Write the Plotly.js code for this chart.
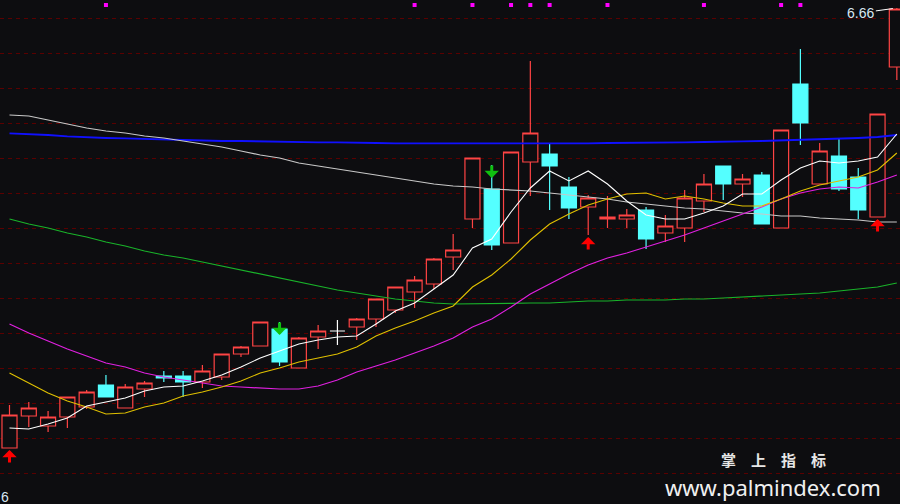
<!DOCTYPE html>
<html><head><meta charset="utf-8">
<script src="https://cdn.plot.ly/plotly-3.0.1.min.js"></script>
<style>html,body{margin:0;padding:0;background:#0d0d10;overflow:hidden}#chart{width:900px;height:504px}</style>
</head><body><div id="chart"></div>
<script>
// ---- data ----
const dayIndex = [0,1,2,3,4,5,6,7,8,9,10,11,12,13,14,15,16,17,18,19,20,21,22,23,24,25,26,27,28,29,30,31,32,33,34,35,36,37,38,39,40,41,42,43,44,45,46];
const openP  = [4.46,4.62,4.57,4.615,4.665,4.775,4.66,4.755,4.82,4.82,4.79,4.815,4.93,4.97,5.055,4.86,5.015,5.045,5.065,5.105,5.15,5.24,5.28,5.415,5.605,5.755,5.485,5.89,5.93,5.765,5.665,5.605,5.605,5.65,5.535,5.56,5.695,5.87,5.78,5.825,5.56,6.28,5.78,5.92,5.815,5.615,6.365];
const highP  = [4.675,4.69,4.645,4.715,4.75,4.825,4.78,4.795,4.845,4.845,4.875,4.93,4.97,5.09,5.09,5.015,5.075,5.10,5.11,5.205,5.265,5.32,5.41,5.53,5.91,5.875,5.94,6.395,5.98,5.815,5.725,5.72,5.655,5.665,5.625,5.75,5.83,5.87,5.83,5.84,6.05,6.455,5.985,6.005,5.86,6.13,6.66];
const lowP   = [4.46,4.565,4.54,4.56,4.655,4.715,4.66,4.715,4.79,4.715,4.76,4.80,4.915,4.97,4.87,4.86,4.955,4.975,5.00,5.065,5.135,5.16,5.255,5.35,5.56,5.45,5.485,5.72,5.65,5.605,5.525,5.56,5.56,5.455,5.49,5.49,5.64,5.70,5.715,5.58,5.56,5.975,5.78,5.745,5.605,5.615,6.30];
const closeP = [4.625,4.66,4.615,4.715,4.74,4.715,4.765,4.785,4.81,4.79,4.845,4.93,4.965,5.09,4.89,5.01,5.045,5.045,5.105,5.205,5.265,5.30,5.405,5.45,5.91,5.475,5.94,6.035,5.87,5.66,5.71,5.615,5.625,5.505,5.57,5.71,5.78,5.78,5.805,5.58,6.05,6.085,5.945,5.755,5.65,6.13,6.655];
const flatDays = [17]; // open == close (white cross)

const ma5  = [4.56,4.555,4.58,4.61,4.67,4.69,4.71,4.745,4.765,4.77,4.795,4.825,4.865,4.91,4.945,4.98,5.00,5.015,5.02,5.08,5.145,5.185,5.255,5.325,5.46,5.505,5.64,5.76,5.845,5.795,5.845,5.78,5.695,5.625,5.605,5.605,5.635,5.67,5.73,5.73,5.80,5.86,5.895,5.885,5.895,5.915,6.03];
const ma10 = [4.835,4.785,4.735,4.695,4.665,4.63,4.635,4.665,4.685,4.72,4.74,4.765,4.795,4.835,4.86,4.89,4.91,4.93,4.965,5.02,5.06,5.095,5.135,5.17,5.265,5.325,5.405,5.50,5.58,5.63,5.675,5.705,5.73,5.735,5.705,5.72,5.705,5.685,5.67,5.67,5.705,5.745,5.775,5.795,5.815,5.85,5.935];
const ma20 = [5.08,5.035,4.995,4.955,4.92,4.885,4.865,4.835,4.815,4.80,4.785,4.77,4.765,4.76,4.755,4.755,4.77,4.80,4.84,4.87,4.90,4.935,4.97,5.01,5.065,5.105,5.165,5.23,5.28,5.33,5.375,5.41,5.435,5.465,5.495,5.525,5.56,5.595,5.63,5.665,5.705,5.735,5.755,5.765,5.76,5.79,5.825];
const ma60 = [5.605,5.58,5.56,5.535,5.515,5.49,5.47,5.445,5.425,5.41,5.39,5.37,5.35,5.33,5.31,5.29,5.27,5.25,5.235,5.22,5.205,5.195,5.185,5.18,5.18,5.18,5.183,5.185,5.185,5.19,5.195,5.195,5.20,5.20,5.20,5.205,5.205,5.21,5.215,5.22,5.225,5.23,5.235,5.245,5.255,5.265,5.285];
const ma120 = [6.125,6.12,6.10,6.08,6.06,6.045,6.035,6.02,6.01,5.995,5.98,5.965,5.945,5.925,5.91,5.885,5.87,5.855,5.84,5.825,5.81,5.795,5.78,5.77,5.765,5.755,5.75,5.745,5.735,5.725,5.715,5.705,5.69,5.68,5.67,5.66,5.655,5.645,5.635,5.63,5.62,5.62,5.61,5.605,5.60,5.59,5.59];
const ma250 = [6.033,6.03,6.025,6.018,6.013,6.01,6.008,6.005,6.003,6.00,5.998,5.995,5.995,5.993,5.99,5.99,5.988,5.988,5.985,5.985,5.983,5.983,5.98,5.98,5.98,5.98,5.98,5.983,5.983,5.983,5.983,5.985,5.985,5.985,5.988,5.988,5.99,5.99,5.993,5.995,5.998,6.00,6.003,6.005,6.01,6.015,6.025];

const buyDays = [0, 30, 45];
const buyTip  = [4.45, 5.515, 5.605];
const sellDays = [14, 25];
const sellTip  = [5.025, 5.81];
const markDays = [5, 21, 24, 26, 27, 28, 31, 36, 40, 41];
const markLevel = [6.675, 6.675, 6.675, 6.675, 6.675, 6.675, 6.675, 6.675, 6.675, 6.675];
const gridLevels = [6.61, 6.435, 6.26, 6.085, 5.91, 5.735, 5.56, 5.385, 5.21, 5.035, 4.86, 4.685, 4.51, 4.335];
const highLabel = '6.66';
const lowLabel = '6';

// ---- build traces ----
const BG = '#0d0d10';
const RED = '#ff4444';
const CYAN = '#54ffff';
const keep = dayIndex.filter(i => flatDays.indexOf(i) < 0);
const pick = (arr, idx) => idx.map(i => arr[i]);

const traces = [];
const lineDefs = [
  [ma250, '#1010ff', 1.8],
  [ma120, '#c8c8c8', 1.2],
  [ma60, '#19b32a', 1.2],
  [ma20, '#e020e0', 1.2],
  [ma10, '#e0c000', 1.1],
  [ma5, '#ffffff', 1.1]
];
lineDefs.forEach(d => traces.push({type:'scatter', mode:'lines', x:dayIndex, y:d[0], line:{color:d[1], width:d[2]}, hoverinfo:'skip'}));

traces.push({
  type:'candlestick', x:pick(dayIndex, keep), open:pick(openP, keep), high:pick(highP, keep), low:pick(lowP, keep), close:pick(closeP, keep),
  increasing:{line:{color:RED, width:1.2}, fillcolor:BG},
  decreasing:{line:{color:CYAN, width:1.2}, fillcolor:CYAN},
  whiskerwidth:0, hoverinfo:'skip'
});
traces.push({
  type:'candlestick', x:pick(dayIndex, flatDays), open:pick(openP, flatDays), high:pick(highP, flatDays), low:pick(lowP, flatDays), close:pick(closeP, flatDays),
  increasing:{line:{color:'#ffffff', width:1.2}, fillcolor:'#ffffff'},
  decreasing:{line:{color:'#ffffff', width:1.2}, fillcolor:'#ffffff'},
  whiskerwidth:0, hoverinfo:'skip'
});
traces.push({type:'scatter', mode:'markers', x:markDays, y:markLevel, marker:{symbol:'square', size:4, color:'#ff00ff'}, hoverinfo:'skip'});

const annotations = [];
buyDays.forEach((d, k) => annotations.push({x:d, y:buyTip[k], xref:'x', yref:'y', text:'', showarrow:true, ax:0, ay:14, arrowhead:1, arrowsize:0.8, arrowwidth:3, arrowcolor:'#ff0000', standoff:0}));
sellDays.forEach((d, k) => annotations.push({x:d, y:sellTip[k], xref:'x', yref:'y', text:'', showarrow:true, ax:0, ay:-14, arrowhead:1, arrowsize:0.8, arrowwidth:3, arrowcolor:'#10c010', standoff:0}));
annotations.push({x:46, y:highP[46], xref:'x', yref:'y', text:highLabel, showarrow:true, ax:-36, ay:5, arrowhead:0, arrowwidth:1, arrowcolor:'#ffffff', standoff:4,
  font:{family:'Liberation Sans Narrow, Arial Narrow, Liberation Sans, sans-serif', size:14, color:'#d8e6f2'}});
annotations.push({x:0, y:1-497/504, xref:'paper', yref:'paper', xanchor:'left', yanchor:'middle', text:lowLabel, showarrow:false, borderpad:0,
  font:{family:'Liberation Sans Narrow, Arial Narrow, Liberation Sans, sans-serif', size:14, color:'#d8e6f2'}});
annotations.push({x:773/900, y:1-471/504, xref:'paper', yref:'paper', xanchor:'center', yanchor:'bottom', showarrow:false, borderpad:0,
  text:'<b>掌\u2003上\u2003指\u2003标</b>', font:{family:'Noto Sans CJK SC, sans-serif', size:15, color:'#e6e6e6'}});
annotations.push({x:773/900, y:1-471/504, xref:'paper', yref:'paper', xanchor:'center', yanchor:'top', showarrow:false, borderpad:0,
  text:'www.palmindex.com', font:{family:'Noto Sans, Open Sans, sans-serif', size:22, color:'#f0f0f0'}});

const layout = {
  width:900, height:504, margin:{l:0, r:0, t:0, b:0, pad:0},
  paper_bgcolor:BG, plot_bgcolor:BG, showlegend:false, hovermode:false,
  boxgap:0, boxgroupgap:0.22,
  xaxis:{range:[-0.4925, 46.164], showgrid:false, zeroline:false, showticklabels:false, ticks:'', showline:false, rangeslider:{visible:false}, fixedrange:true},
  yaxis:{range:[4.18, 6.70], tickvals:gridLevels, showticklabels:false, ticks:'', showgrid:true, gridcolor:'#5a0000', gridwidth:1, griddash:'4px,4px', zeroline:false, showline:false, fixedrange:true},
  annotations:annotations
};
Plotly.newPlot('chart', traces, layout, {staticPlot:true, displayModeBar:false});
</script>
</body></html>
